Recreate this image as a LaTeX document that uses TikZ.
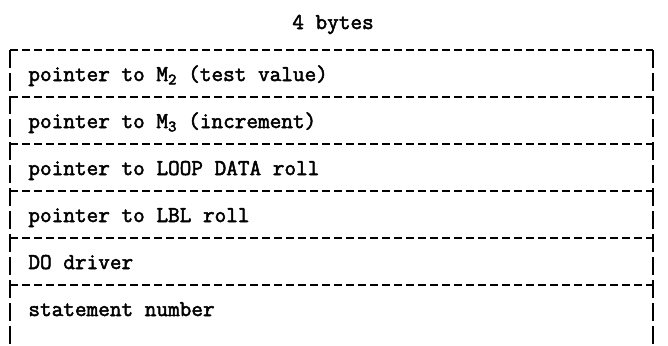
\documentclass[tikz,border=0pt]{standalone}
\usepackage{fontspec}
\setmonofont{Latin Modern Mono}[AutoFakeBold=2.2]
\usetikzlibrary{positioning}
\newcommand{\lowidx}[1]{\raisebox{-0.35ex}{\fontsize{8}{9}\selectfont #1}}

\begin{document}
\begin{tikzpicture}[x=0.5pt,y=-0.5pt,
  every node/.style={font=\ttfamily\bfseries\fontsize{11.3}{13}\selectfont,inner sep=0pt},
  field/.style={anchor=base west},
  rule/.style={line width=1.2pt,dash pattern=on 4pt off 2pt}]
\useasboundingbox (0,0) rectangle (668,345);
\node[anchor=base] (width) at (333,29) {4 bytes};
% dividers and sides
\foreach \y in {50,97,144,191,238,285}
  \draw[rule] (10,\y) -- (653,\y);
\draw[rule,dash pattern=on 9pt off 2.5pt] (10,50) -- (10,345);
\draw[rule,dash pattern=on 9pt off 2.5pt] (653,50) -- (653,345);
% fields
\node[field] (m2) at (28,81) {pointer to M\lowidx{2} (test value)};
\node[field] (m3) at (28,128) {pointer to M\lowidx{3} (increment)};
\node[field] (loop) at (28,175) {pointer to LOOP DATA roll};
\node[field] (lbl) at (28,222) {pointer to LBL roll};
\node[field] (drv) at (28,269) {DO driver};
\node[field] (stno) at (28,316) {statement number};
\end{tikzpicture}
\end{document}
